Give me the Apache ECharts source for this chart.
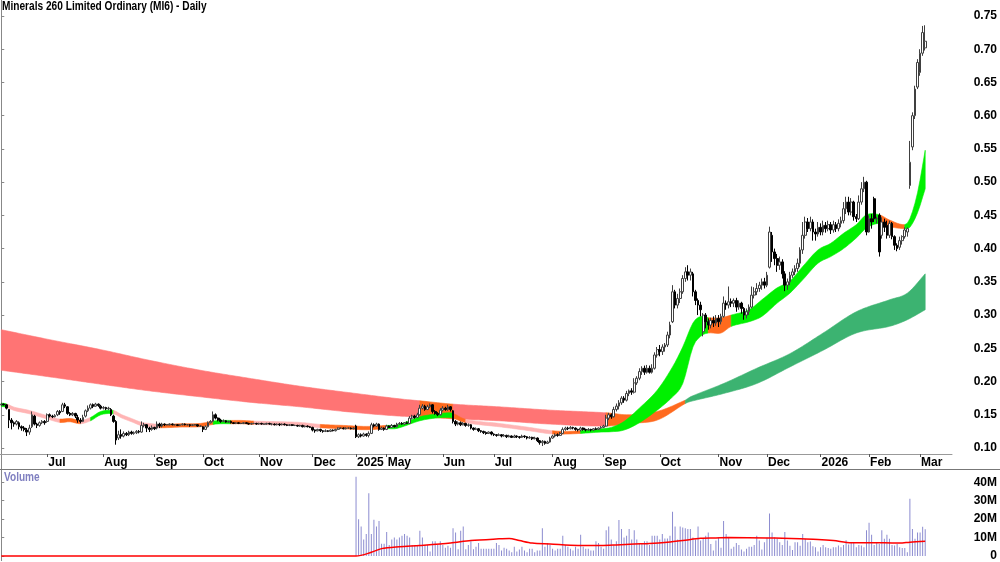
<!DOCTYPE html>
<html>
<head>
<meta charset="utf-8">
<script src="https://cdn.jsdelivr.net/npm/echarts@6/dist/echarts.min.js"></script>
<style>html,body{margin:0;padding:0;background:#fff}#c{width:1000px;height:562px}</style>
</head>
<body>
<div id="c"></div>
<script>
const FONT = "'Liberation Sans',Arial,sans-serif";
const TITLE = 'Minerals 260 Limited Ordinary (MI6) - Daily';
const VOLUME_LABEL = 'Volume';
const N_SLOTS = 373;

// x-axis labels and the trading-day index they sit on
const tickLabels = ['Jul','Aug','Sep','Oct','Nov','Dec','2025','May','Jun','Jul','Aug','Sep','Oct','Nov','Dec','2026','Feb','Mar'];
const tickIndex  = [18,40,60,79,101,122,139,151,173,193,216,236,258,281,300,321,340,360];

// price axis ticks and volume axis ticks (volume in millions)
const priceTicks = [0.10,0.15,0.20,0.25,0.30,0.35,0.40,0.45,0.50,0.55,0.60,0.65,0.70,0.75];
const volumeTicks = [0,10,20,30,40];

// daily [open, close, low, high] in thousandths of a dollar
const ohlc = [
[165,166,163,168],[166,165,164,167],[165,160,158,166],[158,142,130,158],[142,138,128,145],[138,136,132,140],[136,140,134,142],[138,132,128,140],[132,130,126,134],[130,128,125,133],
[127,124,118,130],[124,130,120,135],[132,150,130,155],[148,136,134,150],[136,134,130,138],[134,138,132,140],[138,140,136,142],[140,138,135,142],[140,150,138,152],[150,148,146,152],
[148,147,145,150],[147,149,146,151],[150,155,148,157],[155,153,150,157],[155,165,154,168],[165,163,160,168],[162,152,150,163],[152,150,148,154],[150,152,148,154],[152,148,145,153],
[146,142,138,150],[142,140,137,145],[140,146,139,150],[148,156,146,158],[156,160,154,164],[160,165,158,167],[165,163,160,167],[163,166,162,168],[166,164,162,167],[163,160,158,165],
[160,161,158,163],[161,159,157,162],[159,160,157,162],[158,150,148,160],[148,140,138,150],[140,112,105,142],[115,120,112,126],[120,118,114,128],[118,122,116,125],[122,120,118,124],
[120,124,118,126],[124,122,120,126],[122,123,120,125],[123,125,121,127],[125,124,122,127],[124,134,123,140],[134,135,131,138],[135,130,124,136],[130,128,124,132],[128,131,126,134],
[131,129,127,132],[130,136,128,140],[136,133,130,138],[133,136,131,138],[136,135,133,137],[135,135,134,136],[135,136,134,137],[136,135,134,137],[135,135,134,136],[135,134,133,136],
[134,135,133,136],[135,136,134,137],[136,135,134,137],[135,135,134,136],[135,134,132,136],[134,135,133,136],[135,135,134,136],[135,133,132,136],[133,133,132,134],[132,128,124,133],
[128,132,127,134],[132,138,131,140],[138,140,137,142],[140,150,139,155],[150,145,143,152],[145,142,140,146],[142,140,138,144],[140,141,139,143],[141,139,138,142],[139,140,138,141],
[140,138,137,141],[138,137,136,139],[137,138,136,139],[138,137,136,139],[137,137,136,138],[137,138,136,139],[138,137,136,139],[137,136,135,138],[136,137,135,138],[137,137,136,138],
[137,136,135,138],[136,137,135,138],[137,136,135,138],[136,136,135,137],[136,137,135,138],[137,136,135,138],[136,136,134,137],[136,135,134,137],[135,136,134,137],[136,135,133,137],
[135,136,134,137],[136,135,134,137],[135,134,133,136],[134,135,133,136],[135,134,133,136],[134,134,133,135],[134,133,132,135],[133,134,132,135],[134,132,131,135],[132,133,131,134],
[133,132,131,134],[132,131,130,133],[131,127,125,132],[127,126,123,128],[126,128,125,129],[128,126,124,129],[126,125,123,127],[125,126,124,128],[126,125,124,127],[125,127,124,128],
[127,126,125,128],[126,128,125,129],[128,130,127,131],[130,130,129,131],[130,129,128,131],[129,130,128,131],[130,130,129,131],[130,129,128,131],[129,130,128,131],[133,117,115,135],
[117,120,115,122],[120,118,116,122],[118,121,117,123],[121,119,117,122],[119,122,116,125],[122,135,121,138],[135,133,131,137],[133,136,132,138],[136,128,126,137],[128,130,127,132],
[130,128,126,131],[128,133,127,135],[133,131,130,134],[131,134,130,136],[134,132,131,135],[132,136,131,138],[136,137,135,139],[137,136,135,139],[136,138,135,139],[138,137,136,140],
[137,145,136,148],[145,148,143,150],[148,146,144,150],[146,150,145,153],[150,160,149,165],[160,163,158,166],[163,158,156,165],[158,162,157,165],[162,165,160,167],[165,155,152,166],
[155,152,150,157],[152,150,148,154],[150,157,149,160],[157,160,155,163],[160,158,156,162],[158,162,156,165],[162,158,155,163],[156,140,137,157],[140,136,133,142],[136,138,134,140],
[138,135,133,140],[135,137,134,139],[137,134,132,138],[134,135,132,137],[135,130,128,136],[130,128,126,131],[128,129,127,131],[129,126,124,130],[126,125,123,127],[125,123,121,126],
[123,122,120,125],[122,124,121,125],[124,121,119,125],[121,120,118,122],[120,119,117,121],[119,120,118,122],[120,118,116,121],[118,119,117,121],[119,117,115,120],[117,118,116,120],
[118,116,115,119],[116,118,115,120],[118,117,115,119],[117,116,114,118],[116,118,115,120],[118,117,115,119],[117,115,113,118],[115,116,114,118],[116,114,112,117],[114,115,113,117],
[115,111,109,116],[111,108,105,112],[108,110,103,112],[110,107,105,111],[107,109,106,111],[109,115,108,117],[115,118,114,120],[118,120,116,122],[120,119,117,122],[119,122,118,124],
[122,128,121,131],[128,130,126,132],[130,129,127,132],[129,131,128,133],[131,130,128,132],[130,128,126,131],[128,127,125,129],[127,130,125,132],[130,128,126,131],[128,127,125,129],
[127,128,126,130],[128,127,125,129],[127,129,126,130],[129,128,127,131],[128,130,127,131],[130,131,129,133],[131,133,130,135],[133,145,132,150],[145,150,142,153],[150,147,144,152],
[147,158,146,162],[158,163,155,167],[163,168,158,172],[168,175,165,178],[175,172,168,178],[172,182,170,186],[182,186,178,188],[186,184,180,190],[184,198,182,205],[198,205,195,208],
[205,215,202,220],[215,220,210,223],[220,214,210,224],[214,220,212,225],[220,214,212,224],[214,220,212,226],[220,240,218,244],[240,248,236,252],[248,245,238,255],[245,252,240,256],
[252,255,245,258],[255,270,252,275],[270,285,265,290],[290,335,288,345],[335,315,310,338],[315,325,310,332],[325,335,318,340],[335,355,332,360],[355,365,350,372],[365,360,352,375],
[360,365,352,370],[362,335,328,365],[335,322,315,338],[322,315,300,325],[315,308,298,320],[275,300,268,303],[300,290,280,303],[290,285,278,295],[285,292,280,296],[292,288,282,298],
[288,295,284,300],[295,290,282,300],[290,298,286,302],[298,318,296,328],[318,315,308,322],[315,320,310,343],[320,318,312,325],[318,322,312,325],[322,312,305,326],[312,318,308,322],
[318,310,302,320],[310,300,293,312],[300,305,295,310],[305,312,300,316],[312,330,310,343],[330,335,325,342],[335,340,330,348],[340,345,335,350],[345,350,338,355],[350,345,340,356],
[345,360,342,365],[372,425,370,433],[420,395,380,425],[395,385,375,400],[385,375,365,392],[375,380,368,388],[380,362,355,384],[362,345,336,366],[345,350,338,355],[350,360,345,365],
[360,365,356,370],[365,370,360,375],[370,378,365,385],[378,398,372,402],[398,420,392,440],[420,440,415,448],[440,430,425,446],[430,440,426,448],[440,425,412,444],[425,422,412,430],
[422,432,418,440],[432,425,420,438],[425,435,420,442],[435,430,424,440],[430,436,426,442],[436,428,422,440],[428,436,424,442],[436,430,425,440],[430,438,426,444],[438,442,432,448],
[442,460,438,470],[460,470,452,478],[470,455,450,478],[455,470,450,476],[470,448,442,472],[448,445,440,452],[445,470,443,480],[470,490,466,500],[490,500,485,508],[500,425,420,502],
[425,445,424,450],[445,440,430,452],[475,445,440,478],[445,445,438,448],[450,395,388,453],[420,440,415,447],[440,432,425,445],[435,420,415,442],[420,438,416,442],[438,418,414,440],
[418,405,398,420],[405,400,396,408],[402,412,398,418],[412,418,406,420],[418,428,415,432],[425,430,418,432],[495,530,490,562],[553,600,548,605],[600,640,595,645],[643,680,640,685],
[665,694,660,700],[694,725,690,735],[702,712,698,736]
];

// daily volume, millions
const volume = [
0,0,0,0,0,0,0,0,0,0, 0,0,0,0,0,0,0,0,0,0, 0,0,0,0,0,0,0,0,0,0, 0,0,0,0,0,0,0,0,0,0,
0,0,0,0,0,0,0,0,0,0, 0,0,0,0,0,0,0,0,0,0, 0,0,0,0,0,0,0,0,0,0, 0,0,0,0,0,0,0,0,0,0,
0,0,0,0,0,0,0,0,0,0, 0,0,0,0,0,0,0,0,0,0, 0,0,0,0,0,0,0,0,0,0, 0,0,0,0,0,0,0,0,0,0,
0,0,0,0,0,0,0,0,0,0, 0,0,0,0,0,0,0,0,0,43,
20,16,9,12,34,12,19.6,16,19,6.6,
6.6,13,6,9,10,9,10,11,12,11,
10,6,6,6,13.7,10,6,6,2.5,8,
8,6,8,6,4.5,5.5,4.5,15,12.7,3.7,
13.7,16,3.7,6,8,3.7,5,7,4,4,
4,4,4,4,7,6,3,4.5,4,3,
2,5,2.5,3.5,5,3,2,4,4,2,
3,3,15,5,7,6,4,3,4,4,
11,6,5,4,3,5,4,11.5,5,4,
4,3,3,8,7,5,4,14,16,9,
6,8,19.5,14.6,10,11,14.6,9,14,9,
7,6.5,8,8,6,11,11,11,9,12,
9.5,9.5,11,24,16,9,16,15.5,15,14.6,
14.6,10,9,16,8.4,9.3,11,12.7,6.5,3,
8.4,10,4.5,19,12,10,4,5,7,6,
3.5,2.5,4,5,5,6,11,8.4,3.5,7.5,
10,23,12.7,10,9.3,7.5,6,13,8.4,5.5,
3.3,7.5,7.5,5.5,12,9.3,7.5,7.8,5.3,4.8,
2.5,4.8,6,4.8,4.3,4,4.8,4.8,5.7,4.8,
6,8.5,6.3,7.2,7.5,4.8,6,5.7,4.8,14,
18,11.5,6,7.2,6.5,14,9.3,11.5,9.3,6,
5.7,6.5,4.8,4.3,4.3,2,31,14.6,9.3,12.7,
12.7,15.8,14.5
];

// volume moving average, read at sample days
const volMaIdx = [0,139,145,149,156,164,176,184,195,199,203,208,215,226,235,241,248,254,261,267,274,280,285,300,306,313,320,326,333,339,346,352,356,362];
const volMaVal = [0,0,2,4,5,5.7,7,8.4,9.3,9.5,8.4,7,6.5,5.7,5.7,6,6.5,6.8,7.5,8.4,9.6,9.8,10,9.8,9.6,9.3,9,8.4,7.2,7.2,7.2,7,7.5,8];

// short-term ribbon (upper / lower edge) at sample days
const shortIdx = [0,2,5,11,19,23,27,31,35,39,44,47,51,55,58,62,70,78,83,86,90,94,99,110,117,125,134,143,151,155,
  164,170,175,177,182,195,205,216,221,227,235,239,244,250,257,263,267,271,274,277,282,286,293,298,304,309,314,320,325,330,335,339,344,348,354,356,359,362];
const shortTop = [0.1675,0.1665,0.1615,0.1565,0.1475,0.1435,0.1445,0.1415,0.146,0.155,0.1565,0.1505,0.1445,0.1385,0.137,0.1355,0.1365,0.137,0.1405,0.1415,0.1415,0.1415,0.1405,0.1395,0.1385,0.1355,0.134,0.1325,0.134,0.1345,
  0.147,0.151,0.153,0.152,0.143,0.137,0.132,0.126,0.125,0.126,0.129,0.131,0.140,0.160,0.187,0.222,0.252,0.288,0.298,0.296,0.296,0.300,0.308,0.323,0.341,0.351,0.373,0.398,0.408,0.423,0.436,0.451,0.451,0.443,0.436,0.445,0.484,0.548];
const shortBot = [0.1625,0.1615,0.1565,0.1515,0.1425,0.1385,0.1395,0.1365,0.141,0.150,0.1515,0.1455,0.1395,0.1335,0.132,0.1305,0.1315,0.132,0.1355,0.1365,0.1365,0.1365,0.1355,0.1345,0.1335,0.1305,0.129,0.1275,0.129,0.1295,
  0.141,0.145,0.146,0.145,0.138,0.132,0.127,0.121,0.121,0.122,0.124,0.1245,0.127,0.138,0.157,0.177,0.197,0.252,0.268,0.273,0.273,0.283,0.290,0.298,0.318,0.333,0.353,0.378,0.388,0.400,0.416,0.431,0.438,0.433,0.430,0.432,0.454,0.490];
const shortColourFrom = [0,2,23,31,35,44,62,83,90,99,125,151,177,182,216,227,277,286,344,354];
const shortColourKey  = ['G','P','O','P','G','P','O','G','O','P','O','G','O','P','O','G','O','G','O','G'];

// long-term ribbon
const longIdx = [0,19,39,58,78,97,117,137,156,164,177,195,215,237,246,257,268,270,283,296,309,322,335,348,355,362];
const longTop = [0.278,0.263,0.248,0.232,0.217,0.205,0.193,0.183,0.174,0.171,0.166,0.162,0.157,0.153,0.150,0.155,0.172,0.177,0.197,0.220,0.242,0.273,0.305,0.323,0.333,0.362];
const longBot = [0.217,0.207,0.196,0.186,0.177,0.169,0.162,0.154,0.148,0.147,0.144,0.141,0.136,0.133,0.137,0.142,0.167,0.170,0.182,0.197,0.222,0.247,0.273,0.283,0.293,0.308];
const longColourFrom = [0,164,177,237,268];
const longColourKey  = ['R','O','R','O','D'];

const COLOURS = {G:'#00f000', P:'#ffb4b4', O:'#ff6a1e', R:'#ff7474', D:'#3cb371'};

// ---------- build ----------
const cats = [];
for (let i = 0; i < N_SLOTS; i++) cats.push(String(i));
const candleData = ohlc.map(d => d.map(v => v / 1000));
const volMaData = volMaIdx.map((x, i) => [x, volMaVal[i]]);

// smooth (cubic Hermite) outline of a ribbon edge between sample j0 and j1, drawn in data space
function smoothEdge(xs, ys, j0, j1) {
  const n = xs.length, out = [];
  const slope = (j) => {
    const a = Math.max(j - 1, 0), b = Math.min(j + 1, n - 1);
    return (ys[b] - ys[a]) / (xs[b] - xs[a]);
  };
  for (let j = j0; j < j1; j++) {
    const h = xs[j + 1] - xs[j], m0 = slope(j), m1 = slope(j + 1);
    const steps = Math.max(2, Math.round(h));
    for (let s = 0; s < steps; s++) {
      const t = s / steps, t2 = t * t, t3 = t2 * t;
      const y = (2*t3 - 3*t2 + 1) * ys[j] + (t3 - 2*t2 + t) * h * m0 + (-2*t3 + 3*t2) * ys[j + 1] + (t3 - t2) * h * m1;
      out.push([xs[j] + t * h, y]);
    }
  }
  out.push([xs[j1], ys[j1]]);
  return out;
}

function ribbonSeries(idx, top, bot, from, keys) {
  const runs = from.map((start, k) => [start, k + 1 < from.length ? from[k + 1] : idx[idx.length - 1], k]);
  return {
    type: 'custom', xAxisIndex: 1, yAxisIndex: 0, z: 1, silent: true,
    encode: {x: [0, 1]},
    data: runs,
    renderItem: function (params, api) {
      const j0 = idx.indexOf(api.value(0)), j1 = idx.indexOf(api.value(1));
      const k = api.value(2);
      const up = smoothEdge(idx, top, j0, j1).map(p => api.coord(p));
      const dn = smoothEdge(idx, bot, j0, j1).map(p => api.coord(p)).reverse();
      const c = COLOURS[keys[k]];
      return {type: 'polygon', shape: {points: up.concat(dn)}, style: {fill: c, stroke: c, lineWidth: 0.6}};
    }
  };
}

const isTick = (i) => tickIndex.indexOf(i) >= 0;
const labelFont = {fontSize: 12, fontWeight: 'bold', color: '#000', fontFamily: FONT};

const chart = echarts.init(document.getElementById('c'), null, {renderer: 'canvas'});
chart.setOption({
  animation: false,
  backgroundColor: '#ffffff',
  grid: [
    {left: 0, right: 48, top: 0, height: 454},
    {left: 0, right: 48, top: 454, bottom: 0}
  ],
  xAxis: [
    {type: 'category', gridIndex: 0, data: cats, boundaryGap: true,
     axisLine: {show: true, lineStyle: {color: '#999', width: 1}},
     axisTick: {show: true, alignWithLabel: true, length: 3, interval: (i) => isTick(i), lineStyle: {color: '#555'}},
     axisLabel: Object.assign({show: true, interval: (i) => isTick(i), align: 'left', margin: 3, padding: [0,0,0,1],
       formatter: (v) => { const k = tickIndex.indexOf(Number(v)); return k >= 0 ? tickLabels[k] : ''; }}, labelFont),
     splitLine: {show: false}},
    {type: 'value', gridIndex: 0, min: -0.5, max: N_SLOTS - 0.5, show: false},
    {type: 'category', gridIndex: 1, data: cats, boundaryGap: true, show: false},
    {type: 'value', gridIndex: 1, min: -0.5, max: N_SLOTS - 0.5, show: false}
  ],
  yAxis: [
    {type: 'value', gridIndex: 0, position: 'right', min: 0.091, max: 0.774,
     axisLine: {show: true, lineStyle: {color: '#888'}},
     axisTick: {show: true, length: 3, customValues: priceTicks, lineStyle: {color: '#888'}},
     axisLabel: Object.assign({customValues: priceTicks, align: 'right', margin: 45, formatter: (v) => v.toFixed(2)}, labelFont),
     splitLine: {show: false}},
    {type: 'value', gridIndex: 1, position: 'right', min: -2.52, max: 55.33,
     axisLine: {show: true, lineStyle: {color: '#888'}},
     axisTick: {show: true, length: 3, customValues: volumeTicks, lineStyle: {color: '#888'}},
     axisLabel: Object.assign({customValues: volumeTicks, align: 'right', margin: 45, formatter: (v) => v === 0 ? '0' : v + 'M'}, labelFont),
     splitLine: {show: false}}
  ],
  graphic: [
    {type: 'line', silent: true, shape: {x1: 0, y1: 469.5, x2: 1000, y2: 469.5}, style: {stroke: '#777', lineWidth: 1}, z: 10},
    {type: 'text', silent: true, x: 2, y: 1, scaleX: 0.845, z: 10,
     style: {text: TITLE, fill: '#000', font: "bold 12px 'Liberation Sans', Arial, sans-serif", textVerticalAlign: 'top'}},
    {type: 'text', silent: true, x: 4, y: 472, scaleX: 0.84, z: 10,
     style: {text: VOLUME_LABEL, fill: '#7f7fc0', font: "bold 12px 'Liberation Sans', Arial, sans-serif", textVerticalAlign: 'top'}}
  ],
  series: [
    ribbonSeries(longIdx, longTop, longBot, longColourFrom, longColourKey),
    ribbonSeries(shortIdx, shortTop, shortBot, shortColourFrom, shortColourKey),
    {type: 'candlestick', xAxisIndex: 0, yAxisIndex: 0, z: 3, barWidth: 2.2, data: candleData,
     itemStyle: {color: '#ffffff', color0: '#000000', borderColor: '#404040', borderColor0: '#000000', borderWidth: 1}},
    {type: 'bar', xAxisIndex: 2, yAxisIndex: 1, barWidth: 1, data: volume, itemStyle: {color: '#8c8cd0'}, z: 2},
    {type: 'line', xAxisIndex: 3, yAxisIndex: 1, data: volMaData, showSymbol: false, smooth: 0.3,
     lineStyle: {color: '#ff0000', width: 1.5}, z: 4}
  ]
});
</script>
</body>
</html>
